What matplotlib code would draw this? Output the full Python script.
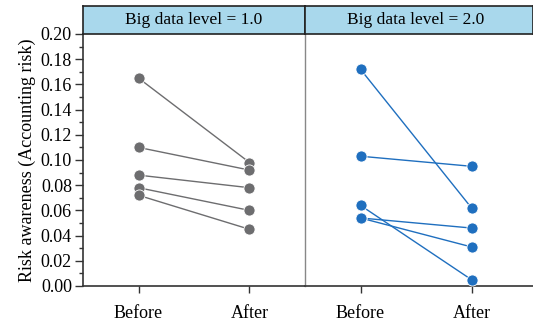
import matplotlib
matplotlib.use("Agg")
import matplotlib.pyplot as plt
from matplotlib.ticker import MultipleLocator

plt.rcParams['font.family'] = ['Liberation Serif', 'DejaVu Serif']

categories = ["Before", "After"]
panel_titles = ["Big data level = 1.0", "Big data level = 2.0"]
before_1 = [0.165, 0.110, 0.088, 0.078, 0.072]
after_1 = [0.098, 0.092, 0.078, 0.060, 0.045]
before_2 = [0.172, 0.103, 0.064, 0.054, 0.054]
after_2 = [0.062, 0.095, 0.005, 0.046, 0.031]
yticks = [0.00, 0.02, 0.04, 0.06, 0.08, 0.10, 0.12, 0.14, 0.16, 0.18, 0.20]
ylabel = "Risk awareness (Accounting risk)"

W, H = 533, 325
fig = plt.figure(figsize=(W / 100, H / 100), dpi=100)

y_bot, y_top, y_strip = 286, 34, 6
panels = [(83, 305, before_1, after_1, "#6d6d6f"),
          (305, 533, before_2, after_2, "#1f6fbf")]
unit = 111.0
fs = 13
for i, (x0, x1, b, a, col) in enumerate(panels):
    ax = fig.add_axes([x0 / W, (H - y_bot) / H, (x1 - x0) / W, (y_bot - y_top) / H])
    xs = list(range(len(categories)))
    for bv, av in zip(b, a):
        ax.plot(xs, [bv, av], color=col, lw=1.0, zorder=2)
        ax.plot(xs, [bv, av], 'o', color=col, ms=8, mec='white', mew=0.6, zorder=3)
    ax.set_xlim(-0.5, -0.5 + (x1 - x0) / unit)
    ax.set_ylim(0, 0.2)
    ax.set_xticks(xs)
    ax.set_xticklabels(categories, fontsize=fs)
    ax.tick_params(axis='x', direction='out', length=5, width=1, color='#333333', pad=9)
    for s in ['top', 'right']:
        ax.spines[s].set_visible(False)
    ax.spines['bottom'].set_color('#333333')
    ax.spines['bottom'].set_linewidth(1.2)
    if i == 0:
        ax.set_yticks(yticks)
        ax.set_yticklabels([f"{v:.2f}" for v in yticks], fontsize=fs)
        ax.yaxis.set_minor_locator(MultipleLocator(0.01))
        ax.tick_params(axis='y', which='major', direction='out', length=6, width=1, color='#333333', pad=2)
        ax.tick_params(axis='y', which='minor', direction='out', length=3, width=1, color='#333333')
        ax.spines['left'].set_color('#333333')
        ax.spines['left'].set_linewidth(1.2)
        ax.set_ylabel(ylabel, fontsize=fs, labelpad=3)
    else:
        ax.set_yticks([])
        ax.spines['left'].set_color('#888888')
        ax.spines['left'].set_linewidth(1.0)
    # strip
    sax = fig.add_axes([x0 / W, (H - y_top) / H, (x1 - x0) / W, (y_top - y_strip) / H])
    sax.set_facecolor('#a9d8ec')
    sax.set_xticks([])
    sax.set_yticks([])
    for s in sax.spines.values():
        s.set_color('#222222')
        s.set_linewidth(1.2)
    cx = (x0 + (x1 if i == 0 else 527)) / 2
    sax.text(((cx - x0) / (x1 - x0)), 0.5, panel_titles[i], transform=sax.transAxes,
             ha='center', va='center', fontsize=12.5)

fig.savefig("out.png", dpi=100)
